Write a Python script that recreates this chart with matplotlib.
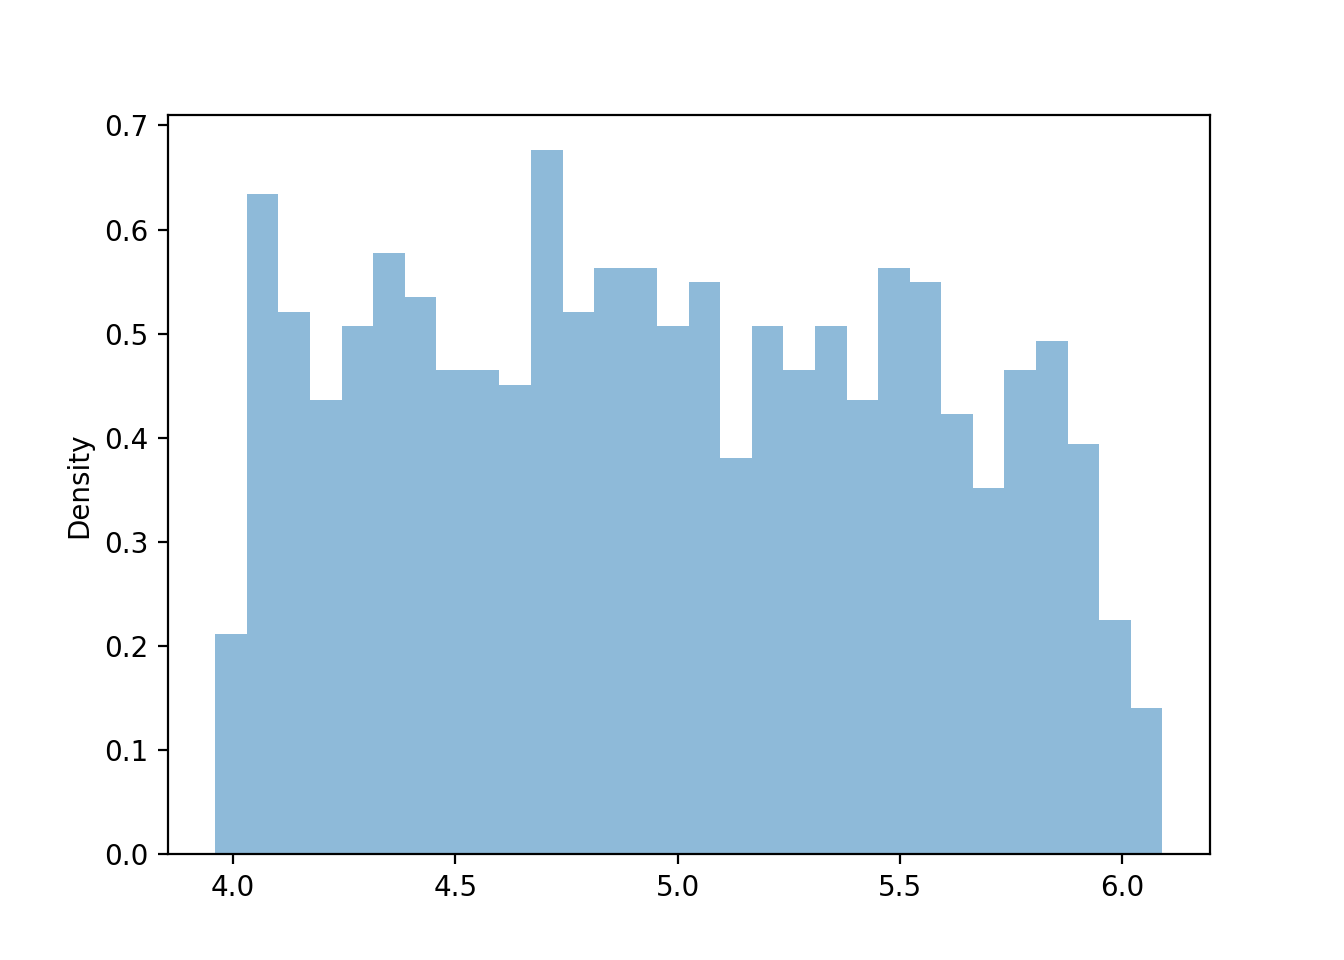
import numpy as np
import matplotlib
matplotlib.use('Agg')
import matplotlib.pyplot as plt

# bin range and counts (30 bins, 1000 samples)
x_min = 3.960
x_max = 6.090
n_bins = 30
counts = [15, 45, 37, 31, 36, 41, 38, 33, 33, 32,
          48, 37, 40, 40, 36, 39, 27, 36, 33, 36,
          31, 40, 39, 30, 25, 33, 35, 28, 16, 10]

edges = np.linspace(x_min, x_max, n_bins + 1)
centers = (edges[:-1] + edges[1:]) / 2

fig, ax = plt.subplots(figsize=(6.72, 4.8), dpi=200)
ax.hist(centers, bins=edges, weights=counts, density=True, alpha=0.5)
ax.set_ylabel('Density')

fig.savefig('out.png', dpi=200)
